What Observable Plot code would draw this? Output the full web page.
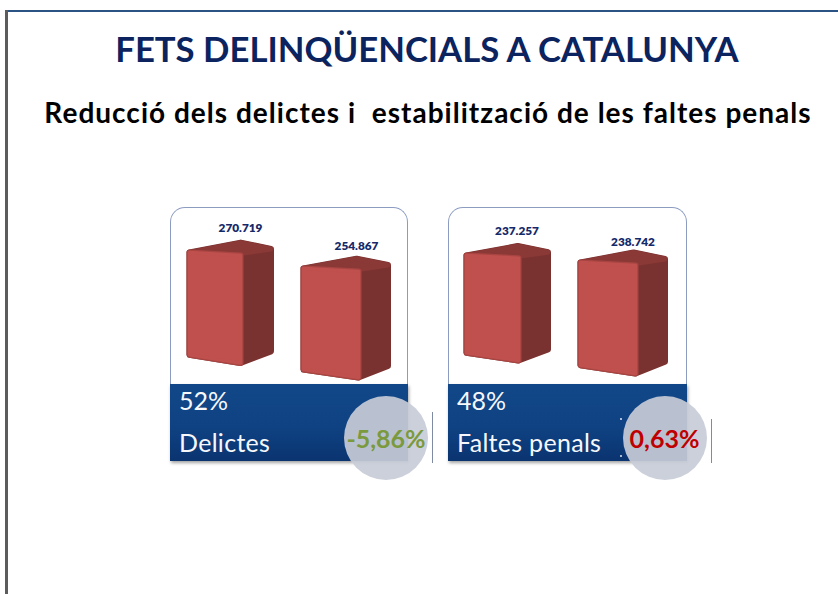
<!DOCTYPE html>
<html lang="ca">
<head>
<meta charset="utf-8">
<script src="https://cdn.jsdelivr.net/npm/d3@7"></script>
<script src="https://cdn.jsdelivr.net/npm/@observablehq/plot@0.6"></script>
<style>
html,body{margin:0;padding:0;background:#fff;}
#page{position:relative;width:838px;height:594px;overflow:hidden;font-family:Lato,"Open Sans",sans-serif;background:#fff;}
#page>*{position:absolute;}
.title{left:0;width:854px;top:24px;text-align:center;font-size:34.7px;font-weight:700;color:#0b2460;white-space:nowrap;line-height:50px;}
.subtitle{left:0;width:856px;top:94px;text-align:center;font-size:28px;letter-spacing:1.02px;font-weight:700;color:#000;white-space:pre;line-height:36px;}
.card{box-sizing:border-box;border:1.5px solid #8c9cc0;border-bottom:none;border-radius:15px 15px 0 0;background:#fff;}
.band{background:linear-gradient(#114788,#0f4283 55%,#0a3470);box-shadow:1px 2px 3px rgba(90,90,90,.55);color:#fff;}
.t{color:#f6f8fc;white-space:nowrap;line-height:30px;}
.circle{border-radius:50%;background:rgba(200,204,215,.92);width:84px;height:84px;}
.pct{width:100px;text-align:center;font-weight:700;font-size:25px;line-height:30px;white-space:nowrap;}
.tick{width:1px;background:#7f8aa3;}
.dot{width:2px;height:2px;border-radius:50%;background:#dfe6f2;}
svg{display:block;}
</style>
</head>
<body>
<div id="page"></div>
<script>
// Chart values
const panels = ["Delictes", "Faltes penals"];
const shares = ["52%", "48%"];
const changes = ["-5,86%", "0,63%"];
const delictes = [270719, 254867];
const faltes = [237257, 238742];
const titleText = "FETS DELINQÜENCIALS A CATALUNYA";
const subtitleText = "Reducció dels delictes i  estabilització de les faltes penals";

// Layout only
const page = document.getElementById("page");
const cardLayout = [{left:170,width:238,change:"#7a9a3d",cx:386,tick:[432,412,51]},
                    {left:448,width:239,change:"#c00000",cx:664.5,tick:[711,419,44]}];
const barLayout = [
  [{left:186,mid:243,right:273.5,top:248.5,h:116.5,lx:240,ly:227},
   {left:300,mid:361,right:390.5,top:264.5,h:115,lx:356,ly:245}],
  [{left:463,mid:521,right:550.5,top:251.5,h:111,lx:516.5,ly:230.5},
   {left:577,mid:638,right:667.5,top:258.5,h:117,lx:632.5,ly:241}]
];
const numFmt = d3.formatLocale({thousands:".",grouping:[3],decimal:","}).format(",d");

function el(cls, css, text){
  const d = document.createElement("div");
  d.className = cls;
  Object.assign(d.style, css);
  if (text !== undefined) d.textContent = text;
  page.appendChild(d);
  return d;
}

// Slide frame
el("", {left:"5px",top:"9.5px",width:"833px",height:"2px",background:"#2b5485"});
el("", {left:"5px",top:"10px",width:"2.5px",height:"584px",background:"#5c5c5c"});
el("title", {}, titleText);
el("subtitle", {}, subtitleText);

function bar(value, b){
  const w = b.mid - b.left, ur = (b.right - b.left) / w;
  const mt = 40, mb = 10, ml = 8, mr = 8;
  const du = 3 / w, dt = 3 / b.h;          // inset so that a round 6px stroke rounds the corners
  const Y = t => value * (1 - t);
  const pt = (u, t) => ({u, v: Y(t)});
  const silhouette = [pt(du,dt),pt(ur*0.62,-0.085+dt),pt(ur-du,-0.03+dt),pt(ur-du,0.9-dt),pt(1-du,1-dt),pt(du,0.93-dt),pt(du,dt)];
  const cap = [pt(du,dt),pt(ur*0.62,-0.085+dt),pt(ur-du,-0.03+dt),pt(1,0.03),pt(du,dt)];
  const front = [pt(du,dt),pt(1-du,0.025+dt),pt(1-du,1-dt),pt(du,0.93-dt),pt(du,dt)];
  const plot = Plot.plot({
    width: ml + mr + b.right - b.left,
    height: mt + mb + b.h,
    marginTop: mt, marginBottom: mb, marginLeft: ml, marginRight: mr,
    x: {axis: null, domain: [0, ur]},
    y: {axis: null, domain: [0, value]},
    style: {background: "transparent", overflow: "visible"},
    marks: [
      Plot.line(silhouette, {x:"u", y:"v", fill:"#7a3230", stroke:"#7a3230", strokeWidth:6, strokeLinejoin:"round", curve:"linear"}),
      Plot.line(cap, {x:"u", y:"v", fill:"#8a3937", stroke:"#8a3937", strokeWidth:5, strokeLinejoin:"round", curve:"linear"}),
      Plot.line(front, {x:"u", y:"v", fill:"#bf504d", stroke:"#a84542", strokeWidth:6, strokeLinejoin:"round", curve:"linear"}),
      Plot.line(front, {x:"u", y:"v", fill:"#bf504d", stroke:"#bf504d", strokeWidth:3.5, strokeLinejoin:"round", curve:"linear"}),
      Plot.text([value], {
        x: () => (b.lx - b.left) / w,
        y: d => Y((b.ly - b.top) / b.h),
        text: d => numFmt(d),
        fontFamily: "Lato, sans-serif", fontWeight: 800, fontSize: 11.8, fill: "#14296a",
        textAnchor: "middle", lineAnchor: "middle"
      })
    ]
  });
  plot.style.position = "absolute";
  plot.style.left = (b.left - ml) + "px";
  plot.style.top = (b.top - mt) + "px";
  page.appendChild(plot);
}

[delictes, faltes].forEach((vals, i) => {
  const c = cardLayout[i];
  el("card", {left:c.left+"px",top:"207px",width:c.width+"px",height:"180px"});
  vals.forEach((v, j) => bar(v, barLayout[i][j]));
  el("band", {left:c.left+"px",top:"384px",width:c.width+"px",height:"77px"});
  el("t", {left:(c.left+9)+"px",top:"385px",fontSize:"25px"}, shares[i]);
  el("t", {left:(c.left+9)+"px",top:"427px",fontSize:"25px",letterSpacing:".3px"}, panels[i]);
  el("tick", {left:c.tick[0]+"px",top:c.tick[1]+"px",height:c.tick[2]+"px"});
  if (i === 1) {
    el("dot", {left:"620px",top:"418px"});
    el("dot", {left:"620px",top:"455px"});
  }
  el("circle", {left:(c.cx-42)+"px",top:"395.5px"});
  el("pct", {left:(c.cx-50)+"px",top:"423px",color:c.change}, changes[i]);
});
</script>
</body>
</html>
